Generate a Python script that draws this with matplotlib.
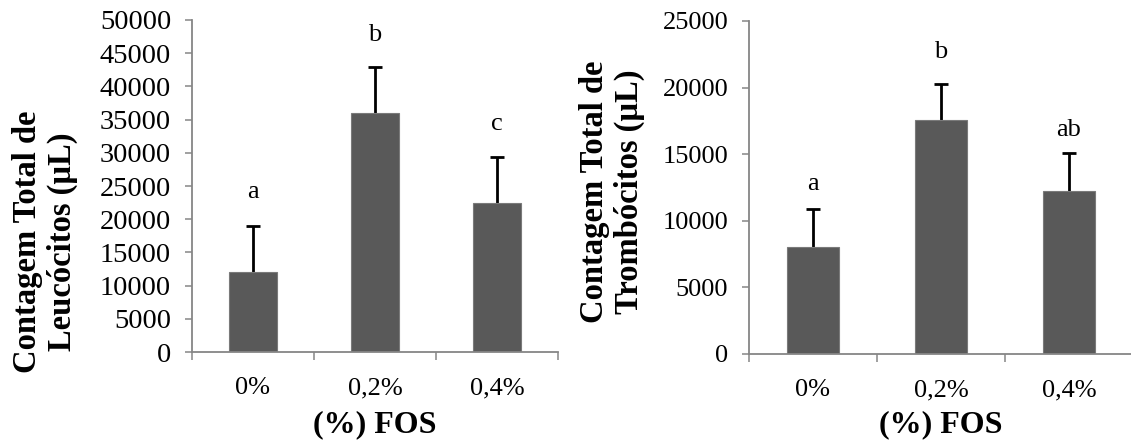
import matplotlib.pyplot as plt
import numpy as np

# dados
categorias = ['0%', '0,2%', '0,4%']

leuco_media = [12050, 36000, 22450]
leuco_erro = [6950, 6900, 6900]
leuco_letras = ['a', 'b', 'c']
leuco_letras_y = [24100, 47700, 34300]

trombo_media = [8030, 17570, 12240]
trombo_erro = [2860, 2700, 2850]
trombo_letras = ['a', 'b', 'ab']
trombo_letras_y = [12800, 22650, 16800]

W, H = 1131, 447
plt.rcParams['font.family'] = ['Liberation Serif', 'DejaVu Serif']

fig = plt.figure(figsize=(W / 100, H / 100), dpi=100)

cor_barra = '#595959'
cor_eixo = '#868686'


def painel(rect, medias, erros, letras, letras_y, ymax, ytick_size):
    ax = fig.add_axes(rect)
    x = np.arange(len(categorias))
    ax.bar(x, medias, width=0.4, color=cor_barra, edgecolor='#7a7a7a',
           linewidth=0.8, zorder=3)
    # barra de erro simétrica atrás da barra: só a parte de cima aparece
    ax.errorbar(x, medias, yerr=erros, fmt='none',
                ecolor='black', elinewidth=2.0, capsize=4.8, capthick=2.0,
                zorder=2)
    for xi, txt, yi in zip(x, letras, letras_y):
        ax.text(xi, yi, txt, ha='center', va='center', fontsize=19)

    ax.set_xlim(-0.5, 2.5)
    ax.set_ylim(0, ymax)
    ax.set_yticks(np.arange(0, ymax + 1, 5000))
    ax.tick_params(axis='y', labelsize=ytick_size, length=5, width=1.1,
                   color=cor_eixo, pad=10)
    # ticks do eixo x nas divisórias, rótulos no centro (estilo Excel)
    ax.set_xticks([-0.5, 0.5, 1.5, 2.5])
    ax.set_xticklabels([])
    ax.set_xticks(x, minor=True)
    ax.set_xticklabels(categorias, minor=True)
    ax.tick_params(axis='x', which='major', length=6, width=1.1,
                   color=cor_eixo)
    ax.tick_params(axis='x', which='minor', length=0, labelsize=19, pad=18)

    for s in ['top', 'right']:
        ax.spines[s].set_visible(False)
    for s in ['left', 'bottom']:
        ax.spines[s].set_color(cor_eixo)
        ax.spines[s].set_linewidth(1.3)
        ax.spines[s].set_zorder(4)
    return ax


ax1 = painel([192 / W, 1 - 352 / H, 366 / W, 332 / H],
             leuco_media, leuco_erro, leuco_letras, leuco_letras_y, 50000, 20.5)
ax2 = painel([749 / W, 1 - 354 / H, 384 / W, 333 / H],
             trombo_media, trombo_erro, trombo_letras, trombo_letras_y, 25000, 19)

fig.text(45 / W, 1 - 242 / H, 'Contagem Total de\nLeucócitos (µL)',
         rotation=90, ha='center', va='center', fontsize=23.5,
         fontweight='bold', multialignment='center', linespacing=1.18)
fig.text(612 / W, 1 - 192 / H, 'Contagem Total de\nTrombócitos (µL)',
         rotation=90, ha='center', va='center', fontsize=23.5,
         fontweight='bold', multialignment='center', linespacing=1.18)

fig.text(375 / W, 1 - 425 / H, '(%) FOS', ha='center', va='center',
         fontsize=23, fontweight='bold')
fig.text(941 / W, 1 - 425 / H, '(%) FOS', ha='center', va='center',
         fontsize=23, fontweight='bold')

fig.savefig('out.png', dpi=100)
